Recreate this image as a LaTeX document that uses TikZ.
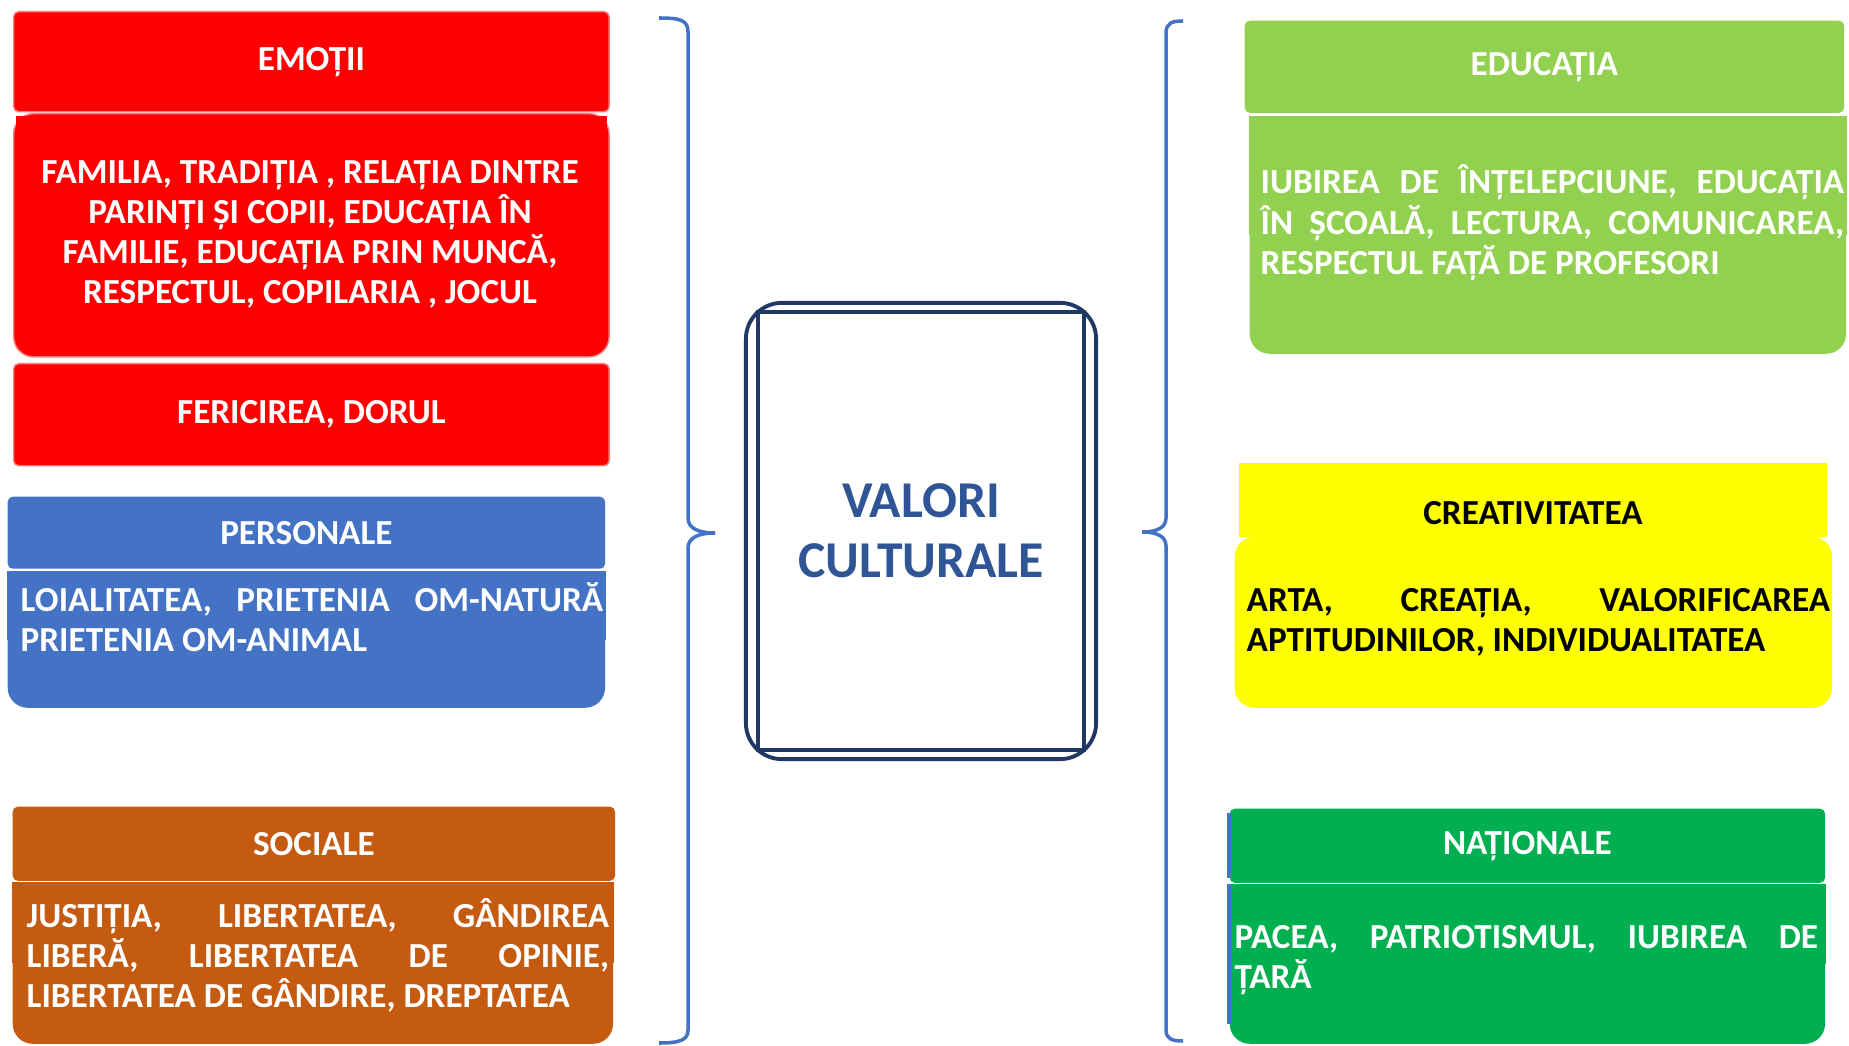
\documentclass[tikz,border=0pt]{standalone}
\usepackage{fontspec}
\setmainfont{Carlito}
\definecolor{emored}    {HTML}{FF0000}
\definecolor{emoline}   {HTML}{FF7A7A}
\definecolor{persblue}  {HTML}{4472C4}
\definecolor{socorange} {HTML}{C55A11}
\definecolor{edugreen}  {HTML}{92D050}
\definecolor{creayellow}{HTML}{FFFF00}
\definecolor{natgreen}  {HTML}{00B050}
\definecolor{navy}      {HTML}{203864}
\definecolor{titleblue} {HTML}{2F5597}
\newcommand\vcText{\fontsize{10pt}{11.4pt}\selectfont\bfseries\hyphenpenalty=10000\tolerance=10000\relax}
\newcommand\vcTitle{\fontsize{14.7pt}{17.1pt}\selectfont\bfseries}
\tikzset{
  hbox/.style  ={anchor=north west, rounded corners=0.05cm, inner sep=0pt,
                 font=\vcText, text=white},
  bbox/.style  ={anchor=north west, rounded corners=0.2cm, inner sep=0pt},
  btext/.style ={anchor=base west, inner sep=0pt, font=\vcText, text=white,
                 align=justify, text width=5.82cm},
  redbox/.style={fill=emored, draw=emoline, line width=0.4pt},
  brace/.style ={draw=persblue, line width=1pt},
  frame/.style ={draw=navy, line width=1.1pt},
}

\begin{document}
\begin{tikzpicture}[x=0.01cm, y=-0.01cm]
  \useasboundingbox (0,0) rectangle (1849,1046);

  % left column
  \node[hbox, redbox, minimum width=5.95cm, minimum height=1.00cm] (emo-h) at (13,11) {EMOȚII};
  \node[bbox, redbox, minimum width=5.95cm, minimum height=2.43cm] (emo-b) at (13,113) {};
  \fill[emored] ([shift={(0.03cm,-0.03cm)}]emo-b.north west) rectangle ([xshift=-0.03cm]emo-b.east);
  \node[font=\vcText, text=white, align=center, inner sep=0pt] (emo-t) at (310,234.5)
    {FAMILIA, TRADIȚIA , RELAȚIA DINTRE\\PARINȚI ȘI COPII, EDUCAȚIA ÎN\\
     FAMILIE, EDUCAȚIA PRIN MUNCĂ,\\RESPECTUL, COPILARIA , JOCUL};
  \node[hbox, redbox, minimum width=5.95cm, minimum height=1.02cm] (fer-h) at (13,363) {FERICIREA, DORUL};

  \node[hbox, fill=persblue, minimum width=5.97cm, minimum height=0.72cm] (pers-h) at (7,496) {PERSONALE};
  \node[bbox, fill=persblue, minimum width=5.97cm, minimum height=1.36cm] (pers-b) at (7,571) {};
  \fill[persblue] (pers-b.north west) rectangle (pers-b.east);
  \node[btext] (pers-t) at (20,611) {LOIALITATEA, PRIETENIA OM-NATURĂ\linebreak PRIETENIA OM-ANIMAL};

  \node[hbox, fill=socorange, minimum width=6.02cm, minimum height=0.74cm] (soc-h) at (12,806) {SOCIALE};
  \node[bbox, fill=socorange, minimum width=6.00cm, minimum height=1.61cm] (soc-b) at (12,882) {};
  \fill[socorange] (soc-b.north west) rectangle (soc-b.east);
  \node[btext] (soc-t) at (26,927)
    {JUSTIȚIA, LIBERTATEA, GÂNDIREA\linebreak LIBERĂ, LIBERTATEA DE OPINIE,\linebreak
     LIBERTATEA DE GÂNDIRE, DREPTATEA};

  % right column
  \node[hbox, fill=edugreen, minimum width=5.99cm, minimum height=0.92cm] (edu-h) at (1244,20) {EDUCAȚIA};
  \node[bbox, fill=edugreen, minimum width=5.96cm, minimum height=2.37cm] (edu-b) at (1249,116) {};
  \fill[edugreen] (edu-b.north west) rectangle (edu-b.east);
  \node[btext, text width=5.83cm] (edu-t) at (1260,194)
    {IUBIREA DE ÎNȚELEPCIUNE, EDUCAȚIA\linebreak ÎN ȘCOALĂ, LECTURA, COMUNICAREA,\linebreak
     RESPECTUL FAȚĂ DE PROFESORI};

  \node[hbox, fill=creayellow, rounded corners=0pt, minimum width=5.88cm, minimum height=0.74cm] (crea-h) at (1238,462) {};
  \node[bbox, fill=creayellow, minimum width=5.97cm, minimum height=1.71cm] (crea-b) at (1234,536) {};
  \node[font=\vcText, inner sep=0pt] (crea-l) at (1533,513) {CREATIVITATEA};
  \node[btext, text=black, text width=5.83cm] (crea-t) at (1246,611)
    {ARTA, CREAȚIA, VALORIFICAREA\linebreak APTITUDINILOR, INDIVIDUALITATEA};

  \node[hbox, fill=natgreen, minimum width=5.95cm, minimum height=0.74cm] (nat-h) at (1229,808) {NAȚIONALE};
  \node[bbox, fill=natgreen, minimum width=5.95cm, minimum height=1.59cm] (nat-b) at (1229,884) {};
  \fill[natgreen] (nat-b.north west) rectangle (nat-b.east);
  \draw[persblue, line width=0.9pt] ([yshift=-0.05cm]nat-h.north west) -- ([yshift=0.05cm]nat-h.south west);
  \draw[persblue, line width=0.9pt] (nat-b.north west) -- ([yshift=0.2cm]nat-b.south west);
  \node[btext, text width=5.83cm] (nat-t) at (1234,948) {PACEA, PATRIOTISMUL, IUBIREA DE\linebreak ȚARĂ};

  % centre
  \node[frame, rounded corners=0.36cm, minimum width=3.50cm, minimum height=4.56cm] (core-out) at (921,531) {};
  \node[frame, minimum width=3.25cm, minimum height=4.38cm, font=\vcTitle, text=titleblue,
        align=center] (core) at (921,531) {VALORI\\CULTURALE};

  % braces
  \coordinate (lb-tip) at (715,533);
  \draw[brace] (659,18) .. controls (680,18) and (688,20) .. (688,32) -- (688,518)
    .. controls (688,528) and (698,533) .. (lb-tip);
  \draw[brace] (lb-tip) .. controls (698,533) and (688,538) .. (688,548) -- (688,1030)
    .. controls (688,1040) and (680,1043) .. (659,1043);
  \coordinate (rb-tip) at (1142,532);
  \draw[brace] (1183,21) .. controls (1172,21) and (1166,23) .. (1166,33) -- (1166,518)
    .. controls (1166,527) and (1158,532) .. (rb-tip);
  \draw[brace] (rb-tip) .. controls (1158,532) and (1166,537) .. (1166,546) -- (1166,1030)
    .. controls (1166,1039) and (1172,1041) .. (1183,1041);
\end{tikzpicture}
\end{document}
